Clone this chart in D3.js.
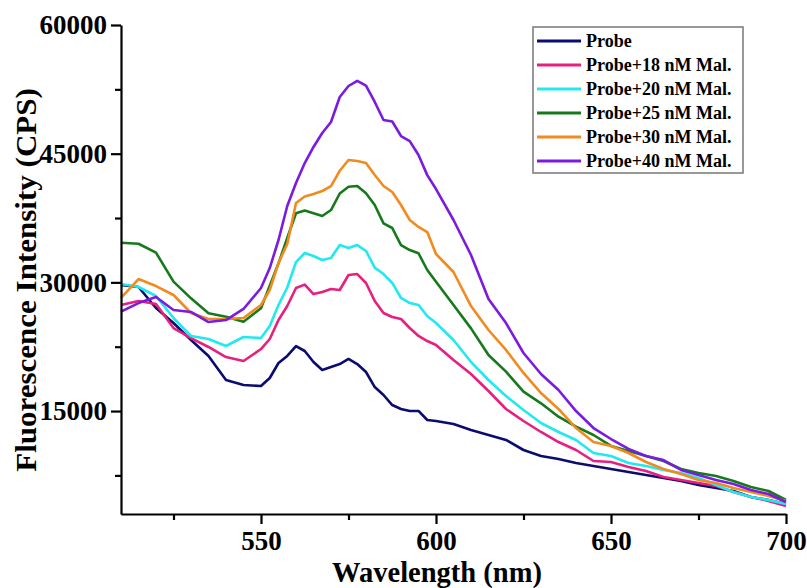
<!DOCTYPE html>
<html>
<head>
<meta charset="utf-8">
<script src="https://cdn.jsdelivr.net/npm/d3@7"></script>
<style>
  body { margin: 0; background: #fff; }
  svg { display: block; }
  .axis path, .axis line { stroke: #000; stroke-width: 2.2px; }
  .axis text { font-family: "Liberation Serif", "Times New Roman", serif; font-weight: bold; font-size: 27px; fill: #000; }
  .title { font-family: "Liberation Serif", "Times New Roman", serif; font-weight: bold; font-size: 29px; fill: #000; }
  .legend text { font-family: "Liberation Serif", "Times New Roman", serif; font-weight: bold; font-size: 18px; fill: #000; }
</style>
</head>
<body>
<svg width="807" height="588"></svg>
<script>
// wavelength grid (nm), finer around the emission band
const wavelength = [510, 515, 520, 525, 530, 535, 540, 545, 550, 552.5, 555, 557.5, 560, 562.5, 565, 567.5, 570,
  572.5, 575, 577.5, 580, 582.5, 585, 587.5, 590, 592.5, 595, 597.5, 600,
  605, 610, 615, 620, 625, 630, 635, 640, 645, 650, 655, 660, 665, 670, 675, 680, 685, 690, 695, 700];

const probe = [29690, 29460, 27010, 25260, 23280, 21420, 18620, 18040, 17920, 18850, 20600, 21420, 22580, 22000, 20720,
  19780, 20130, 20480, 21070, 20480, 19550, 17800, 16870, 15700, 15240, 15010, 15010, 13960, 13840,
  13490, 12790, 12210, 11630, 10460, 9760, 9410, 8940, 8600, 8250, 7900, 7550, 7200, 6850, 6380, 6030, 5680, 4980, 4630, 4170];
const mal18 = [27360, 27830, 27480, 24680, 23510, 22470, 21300, 20830, 22230, 23400, 25610, 27240, 29340, 29740, 28640,
  28880, 29230, 29110, 30860, 30970, 29930, 27830, 26430, 25960, 25730, 24680, 23750, 23160, 22700,
  20950, 19320, 17340, 15240, 13840, 12560, 11390, 10460, 9180, 9060, 8480, 8010, 7310, 6960, 6610, 6260, 5560, 4980, 4520, 3930];
const mal20 = [29810, 29460, 28410, 25850, 23750, 23400, 22580, 23630, 23510, 24910, 27360, 29400, 32370, 33420, 33070,
  32610, 32840, 34350, 34000, 34350, 33660, 31720, 30970, 29930, 28180, 27590, 27360, 26080, 25260,
  23280, 20720, 18620, 16750, 15120, 13610, 12560, 11630, 10110, 9760, 8950, 8600, 8130, 7780, 7200, 6380, 5560, 4980, 4630, 4170];
const mal25 = [34620, 34500, 33460, 30080, 28140, 26390, 26000, 25410, 26980, 29620, 32220, 35170, 38050, 38370, 38050,
  37730, 38430, 40360, 41150, 41230, 40380, 39020, 36880, 36340, 34350, 33770, 33390, 31440, 30080,
  27360, 24640, 21530, 19590, 17260, 15900, 14340, 13180, 12210, 10930, 10340, 9760, 9180, 8250, 7780, 7430, 6850, 6150, 5680, 4630];
const mal30 = [28180, 30390, 29570, 28530, 26430, 25730, 25730, 25850, 27360, 29110, 32260, 34470, 39250, 40010, 40300,
  40650, 41230, 43010, 44260, 44140, 43910, 42510, 41230, 40530, 39020, 37270, 36460, 35870, 33310,
  31210, 27240, 24450, 22120, 19440, 17100, 15240, 13020, 11390, 10930, 10110, 9060, 8250, 7660, 6960, 6610, 6030, 5560, 5100, 4520];
const mal40 = [26580, 27590, 28290, 26780, 26550, 25380, 25610, 26900, 29340, 31670, 34940, 38900, 41580, 43910, 45780,
  47410, 48690, 51610, 52890, 53500, 52930, 51030, 48920, 48750, 47060, 46470, 44840, 42500, 40880,
  37270, 33190, 28060, 25260, 21770, 19320, 17450, 15000, 13020, 11740, 10580, 9760, 9290, 8130, 7550, 6960, 6500, 5800, 5330, 4400];

const seriesNames = ["Probe", "Probe+18 nM Mal.", "Probe+20 nM Mal.", "Probe+25 nM Mal.", "Probe+30 nM Mal.", "Probe+40 nM Mal."];
const seriesColors = ["#0b0b70", "#e6207f", "#22e8f0", "#17791b", "#f18a1f", "#7b1be0"];
const seriesValues = [probe, mal18, mal20, mal25, mal30, mal40];

const yTicks = [15000, 30000, 45000, 60000];
const yMinor = [7500, 22500, 37500, 52500];
const xTicks = [550, 600, 650, 700];
const xMinor = [525, 575, 625, 675];

const svg = d3.select("svg");

const x = d3.scaleLinear().domain([510, 700]).range([121, 786]);
const y = d3.scaleLinear().domain([3000, 60000]).range([514, 25]);

const line = d3.line()
    .x((d, i) => x(wavelength[i]))
    .y(d => y(d));

// curves
svg.append("g")
    .selectAll("path")
    .data(seriesValues)
    .enter().append("path")
    .attr("d", d => line(d))
    .attr("fill", "none")
    .attr("stroke", (d, i) => seriesColors[i])
    .attr("stroke-width", 2.6)
    .attr("stroke-linejoin", "round");

// axes
svg.append("g")
    .attr("class", "axis")
    .attr("transform", "translate(0,514)")
    .call(d3.axisBottom(x).tickValues(xTicks).tickSize(10).tickSizeOuter(0).tickPadding(6))
    .call(g => g.selectAll("text").attr("dy", "20px"));

svg.append("g")
    .attr("class", "axis")
    .attr("transform", "translate(0,514)")
    .call(d3.axisBottom(x).tickValues(xMinor).tickSize(6).tickFormat(""))
    .call(g => g.select(".domain").remove());

svg.append("g")
    .attr("class", "axis")
    .attr("transform", "translate(121,0)")
    .call(d3.axisLeft(y).tickValues(yTicks).tickSize(10).tickSizeOuter(0).tickPadding(4).tickFormat(d3.format("d")));

svg.append("g")
    .attr("class", "axis")
    .attr("transform", "translate(121,0)")
    .call(d3.axisLeft(y).tickValues(yMinor).tickSize(6).tickFormat(""))
    .call(g => g.select(".domain").remove());

// axis titles
svg.append("text")
    .attr("class", "title")
    .attr("x", 437)
    .attr("y", 582)
    .attr("text-anchor", "middle")
    .style("font-size", "28.5px")
    .text("Wavelength (nm)");

svg.append("text")
    .attr("class", "title")
    .attr("transform", "translate(36,280) rotate(-90) scale(1.07,1)")
    .attr("text-anchor", "middle")
    .text("Fluorescence Intensity (CPS)");

// legend
const legend = svg.append("g").attr("class", "legend");
legend.append("rect")
    .attr("x", 533).attr("y", 27)
    .attr("width", 210).attr("height", 146)
    .attr("fill", "#fff")
    .attr("stroke", "#777")
    .attr("stroke-width", 1.5);

const rows = legend.selectAll("g.row")
    .data(seriesNames)
    .enter().append("g")
    .attr("class", "row")
    .attr("transform", (d, i) => `translate(0,${41 + i * 24})`);

rows.append("line")
    .attr("x1", 537).attr("x2", 581)
    .attr("stroke", (d, i) => seriesColors[i])
    .attr("stroke-width", 3);

rows.append("text")
    .attr("x", 586)
    .attr("y", 6)
    .text(d => d);
</script>
</body>
</html>
